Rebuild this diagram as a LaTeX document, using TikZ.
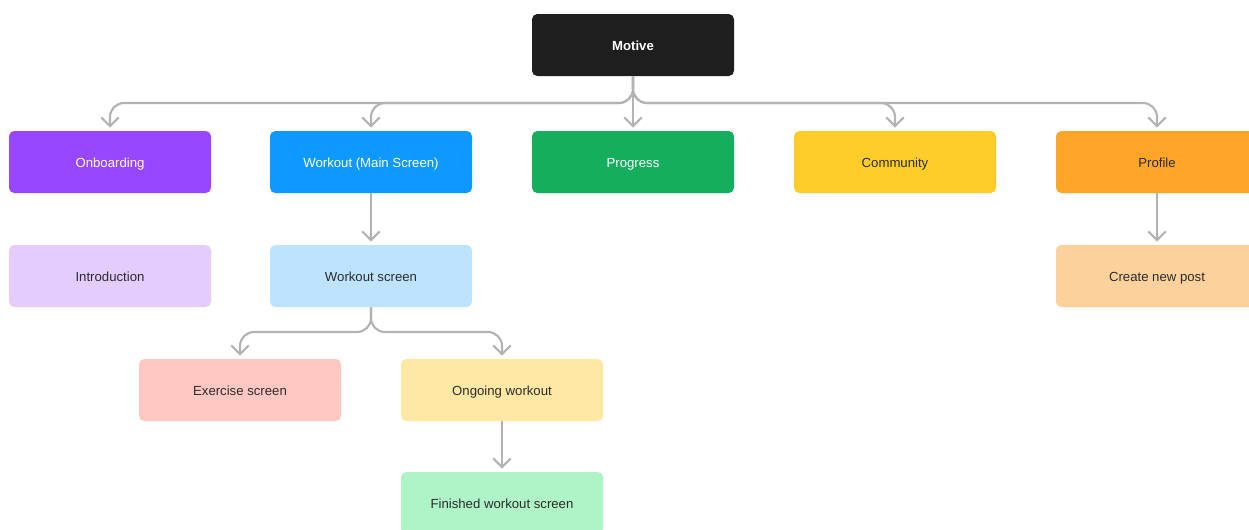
\documentclass[tikz,border=0pt]{standalone}
\usepackage{fontspec}
\setmainfont{Liberation Sans}
\usetikzlibrary{arrows.meta,calc}

\definecolor{motiveblack}{HTML}{1E1E1E}
\definecolor{onbpurple}{HTML}{9747FF}
\definecolor{wkblue}{HTML}{0D99FF}
\definecolor{proggreen}{HTML}{14AE5C}
\definecolor{commyellow}{HTML}{FFCD29}
\definecolor{proforange}{HTML}{FFA629}
\definecolor{intropurple}{HTML}{E4CCFF}
\definecolor{wsblue}{HTML}{BDE3FF}
\definecolor{exred}{HTML}{FFC7C2}
\definecolor{ongyellow}{HTML}{FFE8A3}
\definecolor{fingreen}{HTML}{AFF4C6}
\definecolor{postorange}{HTML}{FCD19C}
\definecolor{linkgray}{HTML}{B3B3B3}
\definecolor{darktext}{HTML}{2C2C2C}

\begin{document}
\begin{tikzpicture}[>={Straight Barb[length=5pt,width=10pt]},
	box/.style={rounded corners=3pt,minimum width=4.04cm,minimum height=1.24cm,
		text height=1.6ex,text depth=0.4ex,
		text=darktext,font=\fontsize{7.5}{9}\selectfont},
	link/.style={draw=linkgray,line width=1.2pt,rounded corners=0.28cm,->,shorten >=0.06cm}]

\clip (0,0) rectangle (24.98,-10.58);
\fill[white] (0,0) rectangle (24.98,-10.58);

% top
\node[box,fill=motiveblack,text=white,font=\fontsize{7.5}{9}\selectfont\bfseries] (motive) at (12.66,-0.9) {Motive};

% first row
\node[box,fill=onbpurple,text=white] (onb) at (2.2,-3.24) {Onboarding};
\node[box,fill=wkblue,text=white] (workout) at (7.42,-3.24) {Workout (Main Screen)};
\node[box,fill=proggreen,text=white] (progress) at (12.66,-3.24) {Progress};
\node[box,fill=commyellow] (community) at (17.9,-3.24) {Community};
\node[box,fill=proforange] (profile) at (23.14,-3.24) {Profile};

% second row
\node[box,fill=intropurple] (intro) at (2.2,-5.52) {Introduction};
\node[box,fill=wsblue] (wscreen) at (7.42,-5.52) {Workout screen};
\node[box,fill=postorange] (newpost) at (23.14,-5.52) {Create new post};

% third and fourth row
\node[box,fill=exred] (exercise) at (4.8,-7.8) {Exercise screen};
\node[box,fill=ongyellow] (ongoing) at (10.04,-7.8) {Ongoing workout};
\node[box,fill=fingreen] (finished) at (10.04,-10.06) {Finished workout screen};

\coordinate (topbus) at (12.66,-2.06);
\coordinate (wkbus) at (7.42,-6.64);

\foreach \n in {onb,workout,community,profile}{
	\draw[link] (motive.south) |- (topbus -| \n.north) -- (\n.north);
}
\draw[link] (motive.south) -- (progress.north);

\draw[link] (workout.south) -- (wscreen.north);
\foreach \n in {exercise,ongoing}{
	\draw[link] (wscreen.south) |- (wkbus -| \n.north) -- (\n.north);
}
\draw[link] (ongoing.south) -- (finished.north);
\draw[link] (profile.south) -- (newpost.north);

\end{tikzpicture}
\end{document}
